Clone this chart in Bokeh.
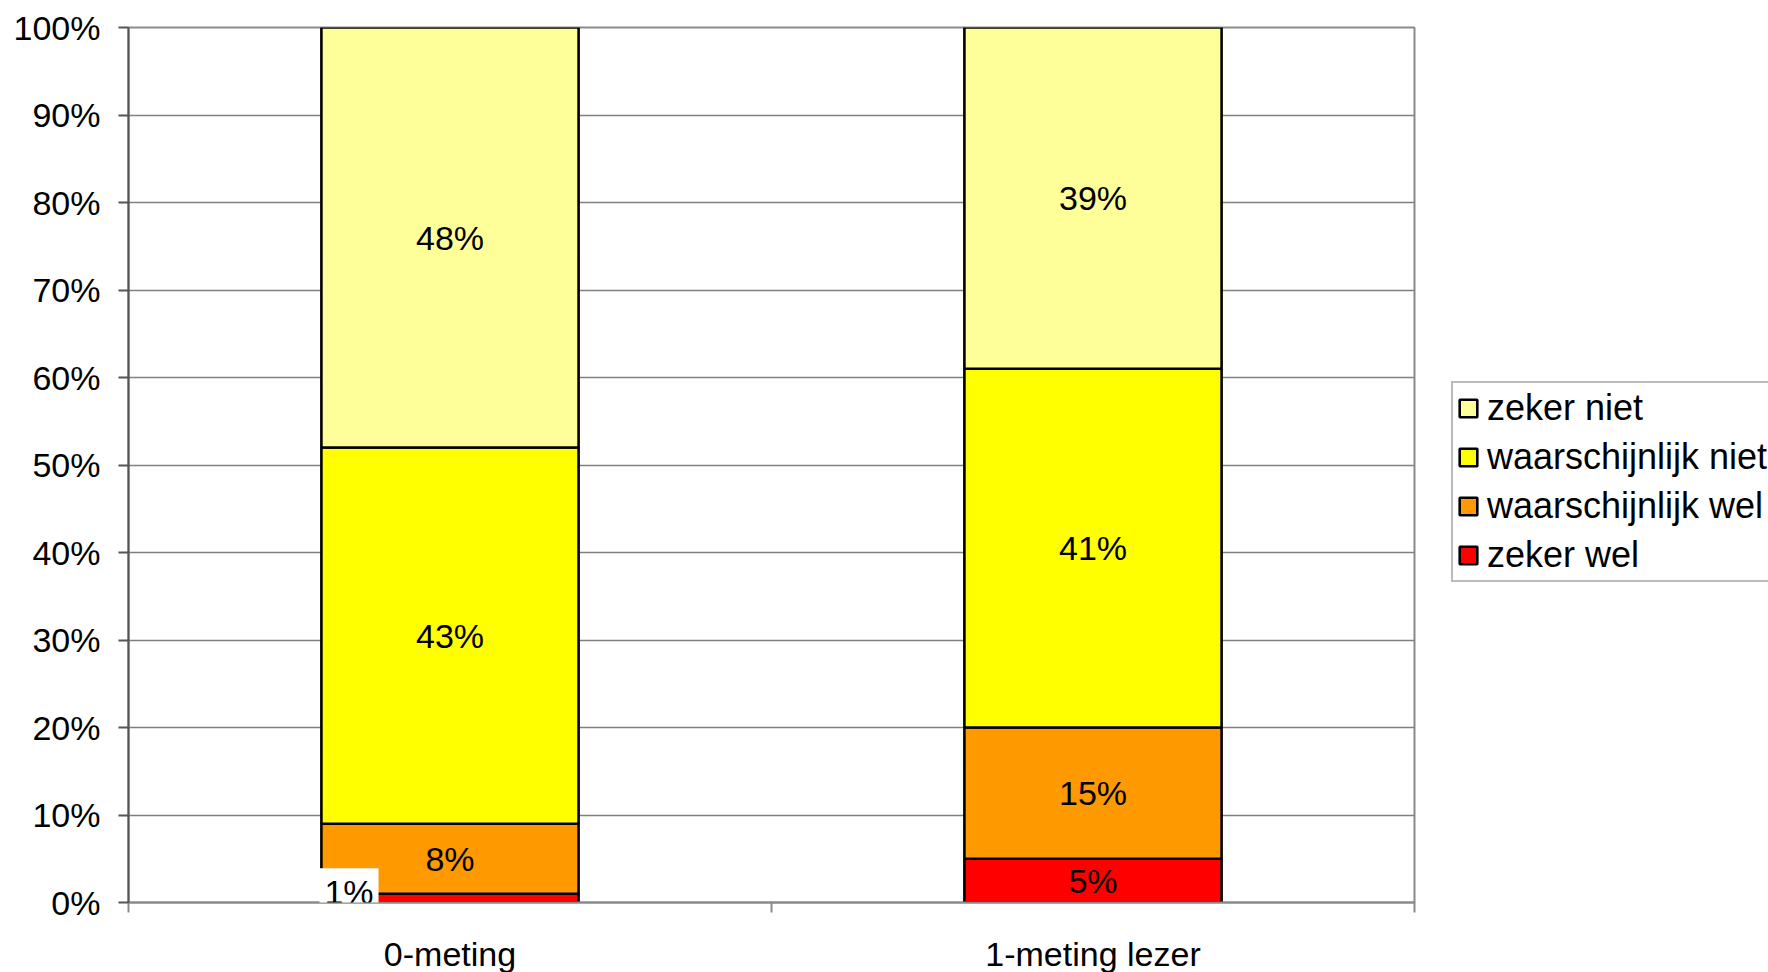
from bokeh.plotting import figure
from bokeh.models import (ColumnDataSource, FixedTicker, PrintfTickFormatter, Range1d,
                          LabelSet, Label, Legend, LegendItem)
from bokeh.core.properties import value
from bokeh.embed import file_html
from bokeh.resources import INLINE

# ---- data ----
categories = ["0-meting", "1-meting lezer"]
series = ["zeker wel", "waarschijnlijk wel", "waarschijnlijk niet", "zeker niet"]
zeker_wel = [1, 5]
waarschijnlijk_wel = [8, 15]
waarschijnlijk_niet = [43, 41]
zeker_niet = [48, 39]
y_ticks = [0, 10, 20, 30, 40, 50, 60, 70, 80, 90, 100]

colors = ["#FF0000", "#FF9900", "#FFFF00", "#FFFF99"]
FONT = "Liberation Sans"

xpos = [i + 0.5 for i in range(len(categories))]
bar_w = 0.4
values = [zeker_wel, waarschijnlijk_wel, waarschijnlijk_niet, zeker_niet]

data = {"x": xpos}
for name, vals in zip(series, values):
    data[name] = vals
src = ColumnDataSource(data)

p = figure(frame_width=1286, frame_height=875, output_backend="svg", toolbar_location=None,
           x_range=Range1d(0, len(categories)), y_range=Range1d(0, 100),
           min_border_left=128, min_border_right=354, min_border_top=27,
           min_border_bottom=70)
p.background_fill_color = "white"
p.border_fill_color = "white"
p.outline_line_color = "#8a8a8a"
p.outline_line_width = 2

renderers = p.vbar_stack(series, x="x", width=bar_w, source=src, color=colors,
                         line_color="black", line_width=2.6)

# grid
p.xgrid.visible = False
p.ygrid.ticker = FixedTicker(ticks=y_ticks)
p.ygrid.grid_line_color = "#808080"
p.ygrid.grid_line_width = 1.3

# y axis
p.yaxis.ticker = FixedTicker(ticks=y_ticks)
p.yaxis.formatter = PrintfTickFormatter(format="%d%%")
p.yaxis.major_label_text_font = FONT
p.yaxis.major_label_text_font_size = "34px"
p.yaxis.major_label_text_color = "black"
p.yaxis.axis_line_color = "#555555"
p.yaxis.axis_line_width = 2
p.yaxis.major_tick_line_color = "#555555"
p.yaxis.major_tick_line_width = 2
p.yaxis.major_tick_out = 10
p.yaxis.major_tick_in = 0
p.yaxis.minor_tick_line_color = None
p.yaxis.major_label_standoff = 18

# x axis: ticks at category boundaries, category labels at centres
p.xaxis.ticker = FixedTicker(ticks=xpos, minor_ticks=list(range(len(categories) + 1)))
p.xaxis.major_label_overrides = {x: c for x, c in zip(xpos, categories)}
p.xaxis.major_tick_line_color = None
p.xaxis.major_tick_out = 0
p.xaxis.major_tick_in = 0
p.xaxis.minor_tick_line_color = "#8a8a8a"
p.xaxis.minor_tick_line_width = 2
p.xaxis.minor_tick_out = 10
p.xaxis.minor_tick_in = 0
p.xaxis.axis_line_color = "#8a8a8a"
p.xaxis.axis_line_width = 2
p.xaxis.major_label_text_font = FONT
p.xaxis.major_label_text_font_size = "34px"
p.xaxis.major_label_text_color = "black"
p.xaxis.major_label_standoff = 22

# data labels
lx, ly, lt = [], [], []
small = []
for i, x in enumerate(xpos):
    base = 0
    for vals in values:
        v = vals[i]
        if v >= 3:
            lx.append(x); ly.append(base + v / 2); lt.append(f"{v}%")
        else:
            small.append((x - bar_w / 2, base + v / 2, f"{v}%"))
        base += v
lab_src = ColumnDataSource(dict(x=lx, y=ly, t=lt))
p.add_layout(LabelSet(x="x", y="y", text="t", source=lab_src,
                      text_align="center", text_baseline="middle",
                      text_font=value(FONT), text_font_size=value("34px"),
                      text_color="black"))
for (sx, sy, st) in small:
    p.add_layout(Label(x=sx, y=sy, text=st, x_offset=-2, y_offset=6,
                       text_align="left", text_baseline="middle",
                       text_font=FONT, text_font_size="34px", text_color="black",
                       background_fill_color="white", padding=5))

# legend (top series first)
items = [LegendItem(label=name, renderers=[r]) for name, r in zip(series, renderers)][::-1]
legend = Legend(items=items, location=(37, 320), orientation="vertical",
                label_text_font=FONT, label_text_font_size="36px",
                label_text_color="black", glyph_width=22, glyph_height=22,
                label_height=40, label_standoff=8, spacing=7, padding=4,
                margin=0, border_line_color="#777777", border_line_width=2,
                background_fill_color="white", background_fill_alpha=1.0)
p.add_layout(legend, "right")

open("out.html", "w").write(file_html(p, INLINE))
